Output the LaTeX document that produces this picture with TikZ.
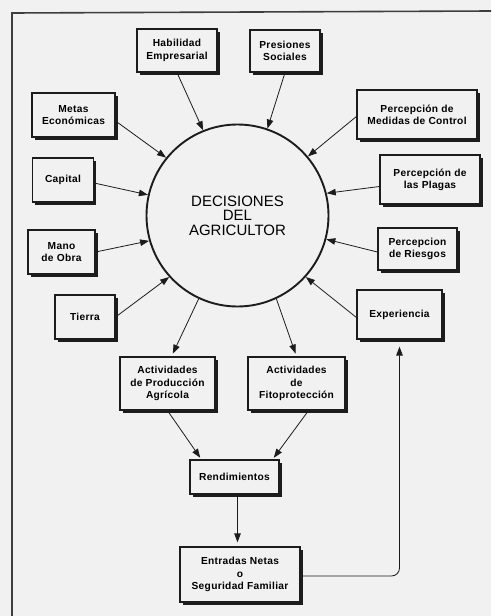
\documentclass[tikz,border=0pt]{standalone}
\usepackage{fontspec}
\setmainfont{Liberation Sans}
\newfontfamily\boxfont{Liberation Sans}[LetterSpace=3.0]
\usetikzlibrary{arrows.meta,shadows,calc}
\definecolor{paper}{RGB}{241,241,241}
\definecolor{ink}{RGB}{28,28,28}

\begin{document}
\begin{tikzpicture}[x=1pt,y=-1pt,
  factor/.style={draw=ink, line width=1.2pt, fill=paper, align=center,
    font=\boxfont\bfseries\fontsize{10.2}{12.3}\selectfont, inner sep=1pt,
    general shadow={fill=ink, shadow xshift=2.6pt, shadow yshift=-2.6pt}},
  link/.style={draw=ink, line width=0.8pt, -{Triangle[length=9pt,width=6.5pt]}},
  frame/.style={draw=ink!85, line width=1.6pt}
]
% page and outer frame
\fill[paper] (0,0) rectangle (491,616);
\useasboundingbox (0,0) rectangle (491,616);
\coordinate (fbl) at (12,616);
\coordinate (ftl) at (12,13);
\coordinate (ftr) at (491,11);
\draw[frame] (fbl) -- (ftl) -- (ftr);

% central decision node
\node[circle, draw=ink, line width=1.9pt, minimum size=182pt, inner sep=0pt,
  align=center, font=\fontsize{15}{14.5}\selectfont] (circ) at (237.5,215.5)
  {DECISIONES\\DEL\\AGRICULTOR};

% influencing factors
\node[factor, minimum width=80pt, minimum height=43pt] (hab)  at (177,50.5)  {Habilidad\\Empresarial};
\node[factor, minimum width=70pt, minimum height=42pt] (pres) at (285,51)    {Presiones\\Sociales};
\node[factor, minimum width=83pt, minimum height=44pt] (meta) at (73.5,115)  {Metas\\Económicas};
\node[factor, minimum width=61pt, minimum height=44pt] (cap)  at (63,180)    {Capital};
\node[factor, minimum width=67pt, minimum height=44pt] (mano) at (61.5,252)  {Mano\\de Obra};
\node[factor, minimum width=60pt, minimum height=44pt] (tier) at (85,317)    {Tierra};
\node[factor, minimum width=120pt, minimum height=49pt] (med) at (417,114.5) {Percepción de\\Medidas de Control};
\node[factor, minimum width=100pt, minimum height=49pt] (plag) at (430,179.5) {Percepción de\\las Plagas};
\node[factor, minimum width=79pt, minimum height=42pt] (ries) at (417.5,249) {Percepcion\\de Riesgos};
\node[factor, minimum width=85pt, minimum height=49pt] (expe) at (399.5,314.5) {Experiencia};

% outcomes
\node[factor, minimum width=95pt, minimum height=53pt] (prod) at (167.5,383.5) {Actividades\\de Producción\\Agrícola};
\node[factor, minimum width=97pt, minimum height=53pt] (fito) at (296.5,383.5) {Actividades\\de\\Fitoprotección};
\node[factor, minimum width=89pt, minimum height=34pt] (rend) at (234.5,477)   {Rendimientos};
\node[factor, minimum width=120pt, minimum height=55pt] (ent) at (240,574.5)   {Entradas Netas\\o\\Seguridad Familiar};

% arrows into the decision
\draw[link] (hab.south) -- (circ.112);
\draw[link] (pres.south) -- (circ.71);
\draw[link] ([yshift=-6pt]meta.east) -- (circ.141);
\draw[link] ([yshift=-3pt]cap.east) -- (circ.167);
\draw[link] (mano.east) -- (circ.196);
\draw[link] (tier.east) -- (circ.222);
\draw[link] ([yshift=-2pt]med.west) -- (circ.40);
\draw[link] ([yshift=-7pt]plag.west) -- (circ.14);
\draw[link] ([yshift=-3pt]ries.west) -- (circ.-15);
\draw[link] ([yshift=-3pt]expe.west) -- (circ.-42);

% arrows out of the decision
\draw[link, shorten >=3pt] (circ.245) -- ([xshift=4pt]prod.north);
\draw[link, shorten >=3pt] (circ.-65) -- (fito.north);
\draw[link, shorten >=2pt] (prod.south) -- ([xshift=12pt]rend.north west);
\draw[link, shorten >=2pt] ([xshift=12pt]fito.south) -- ([xshift=-7pt]rend.north east);
\draw[link, shorten >=4pt] ([xshift=3pt]rend.south) -- ([xshift=3pt]rend.south |- ent.north);

% feedback from income to experience
\draw[link, rounded corners=8pt, shorten >=7pt] ([yshift=-1.5pt]ent.east) -| (expe.south);
\end{tikzpicture}
\end{document}
